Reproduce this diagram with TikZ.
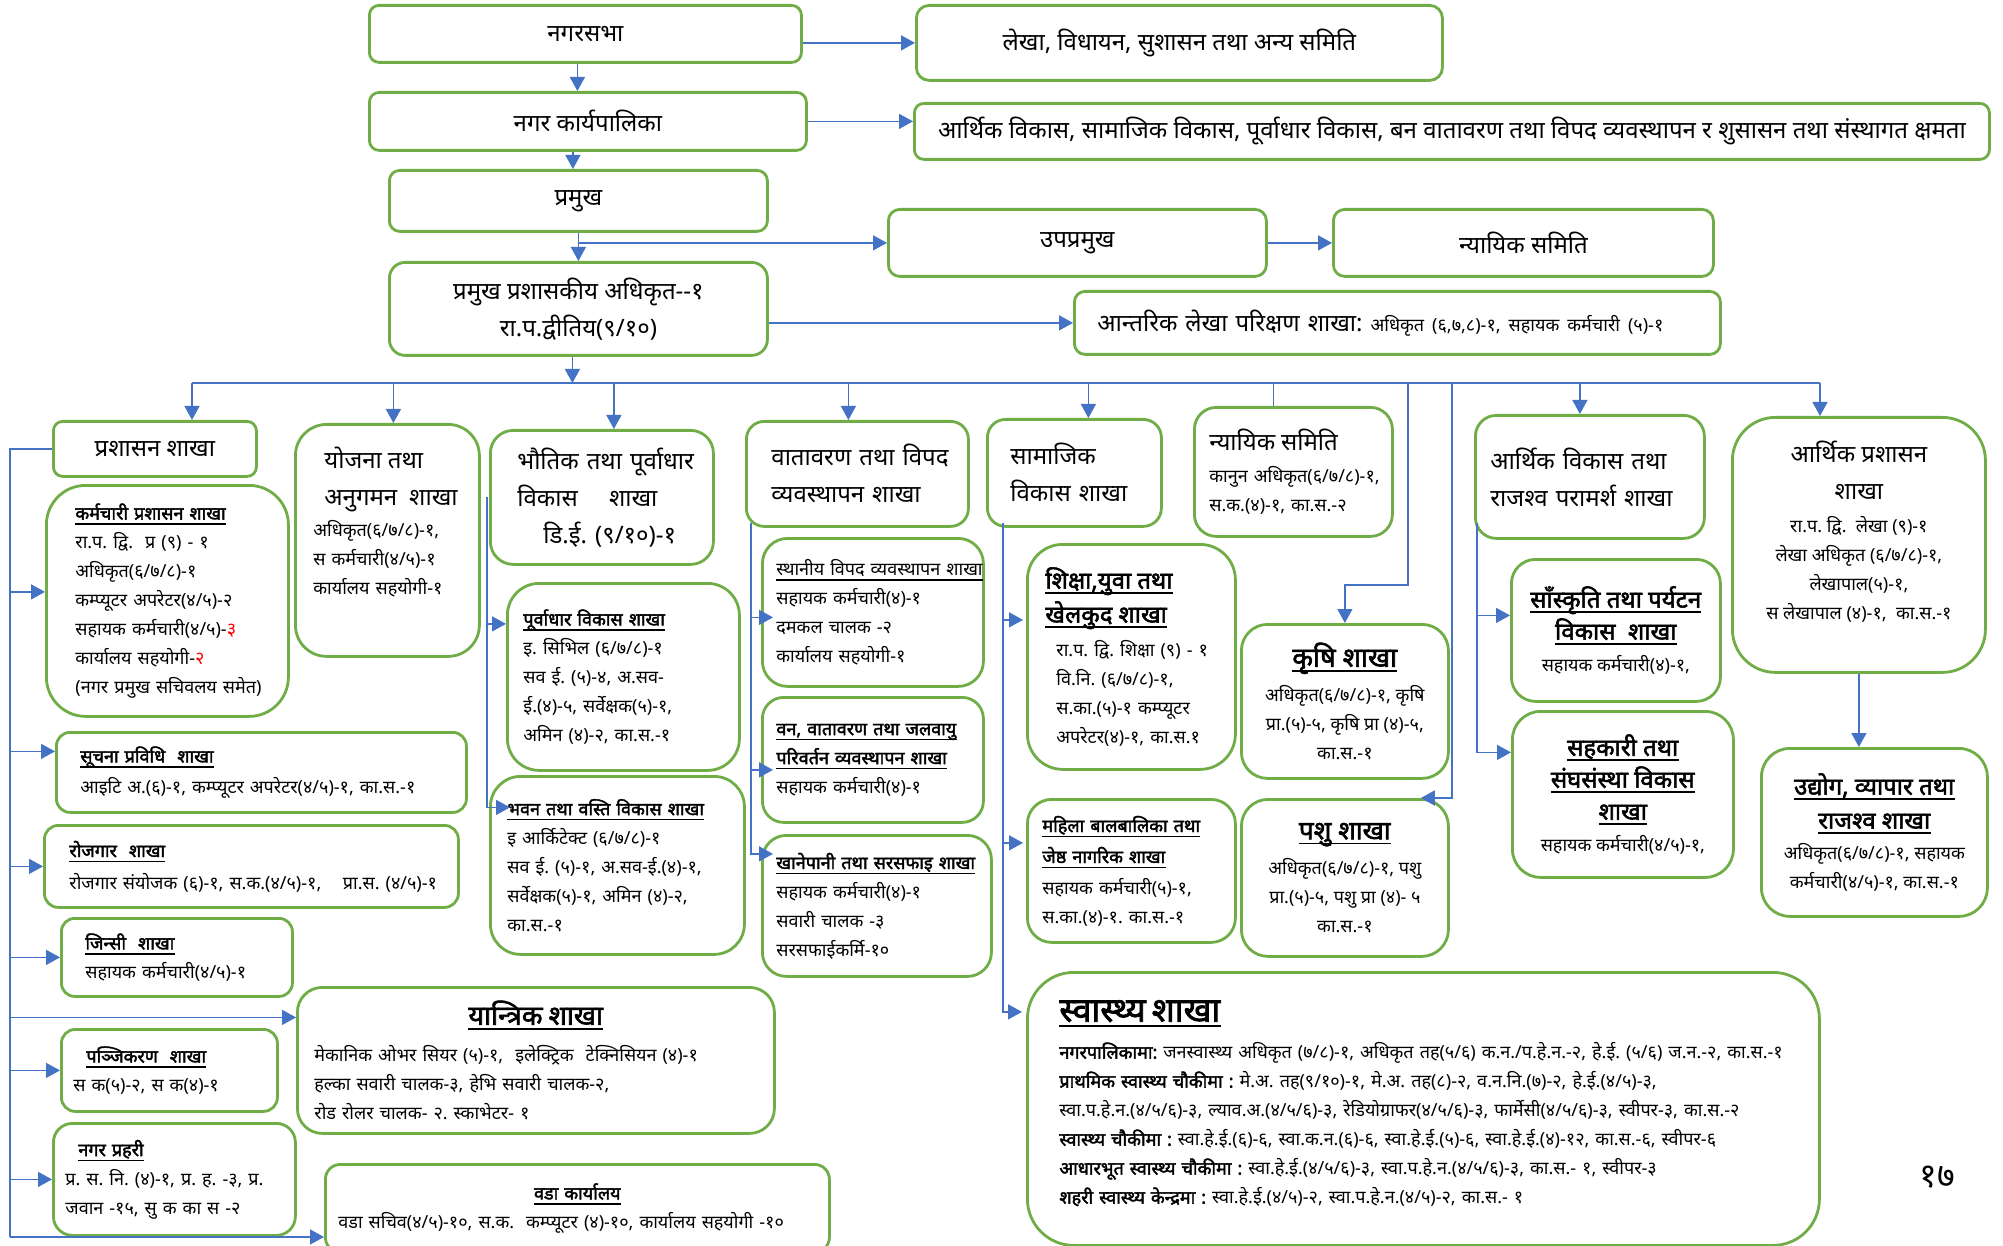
\documentclass[tikz,border=0pt]{standalone}
\usepackage{fontspec}
\setmainfont{Noto Sans}[Script=Devanagari, BoldFont={Noto Sans}, BoldFeatures={FakeBold=2.2}]
\usetikzlibrary{arrows.meta}
\definecolor{leaf}{HTML}{70AD47}
\definecolor{flow}{HTML}{4472C4}
\definecolor{alert}{HTML}{FF0000}
\newcommand{\bigsz}{\fontsize{24}{37}\selectfont}
\newcommand{\largesz}{\fontsize{24}{32}\selectfont}
\newcommand{\smallsz}{\fontsize{18}{29}\selectfont}
\newcommand{\hugesz}{\fontsize{34}{42}\selectfont}
\newcommand{\underhead}[1]{\leavevmode\setbox0\hbox{#1}\rlap{\rule[-5pt]{\wd0}{1.4pt}}\box0}
\newcommand{\unithead}[1]{\underhead{\textbf{#1}}}
\newcommand{\lift}[1]{\rule[-#1]{0pt}{0pt}}
\frenchspacing

\begin{document}
\begin{tikzpicture}[x=1pt, y=-1pt,
  cell/.style 2 args={draw=leaf, line width=2.8pt, fill=white, anchor=north west,
    minimum width=#1, minimum height=#2, rounded corners={0.17*min(#1,#2)},
    inner sep=0pt, font=\bigsz,
    execute at begin node={\rightskip=0pt plus 1fil minus 1000pt}},
  link/.style={draw=flow, line width=1.4pt, -{Triangle[length=14pt, width=15pt]}},
  rail/.style={draw=flow, line width=1.4pt}]
\useasboundingbox[fill=white] (0,0) rectangle (2003,1246);

% council and mayor chain
\node[cell={432}{57}] (sabha) at (368,4) {नगरसभा};
\node[cell={526}{75}] (lekha) at (915,4) {लेखा, विधायन, सुशासन तथा अन्य समिति};
\node[cell={437}{58}] (palika) at (368,91) {नगर कार्यपालिका};
\node[cell={1075}{56}] (agenda) at (913,102) {आर्थिक विकास, सामाजिक विकास, पूर्वाधार विकास, बन वातावरण तथा विपद व्यवस्थापन र शुसासन तथा संस्थागत क्षमता};
\node[cell={378}{61}] (pramukh) at (388,169) {प्रमुख};
\node[cell={378}{67}] (upa) at (887,208) {उपप्रमुख};
\node[cell={380}{67}] (nyaya) at (1332,208) {न्यायिक समिति};
\node[cell={378}{93}, align=center] (cao) at (388,261) {प्रमुख प्रशासकीय अधिकृत-{}-१\\रा.प.द्वीतिय(९/१०)};
\node[cell={646}{63}, text width=600, align=left] (audit) at (1073,290)
  {आन्तरिक लेखा परिक्षण शाखा: {\smallsz अधिकृत (६,७,८)-१, सहायक कर्मचारी (५)-१}};

% administration column
\node[cell={203}{55}] (prashasan) at (52,420) {प्रशासन शाखा};
\node[cell={242}{231}, text width=184, align=left, font=\smallsz] (karmachari) at (45,484)
  {\unithead{कर्मचारी प्रशासन शाखा}\\ रा.प. द्वि.\ \ प्र (९) - १\\ अधिकृत(६/७/८)-१\\
   कम्प्यूटर अपरेटर(४/५)-२\\ सहायक कर्मचारी(४/५)-\textcolor{alert}{३}\\
   कार्यालय सहयोगी-\textcolor{alert}{२}\\ (नगर प्रमुख सचिवलय समेत)};
\node[cell={410}{80}, text width=362, align=left, font=\smallsz] (suchana) at (55,731)
  {\unithead{सूचना प्रविधि\ \ शाखा}\\[2pt] आइटि अ.(६)-१, कम्प्यूटर अपरेटर(४/५)-१, का.स.-१};
\node[cell={414}{82}, text width=364, align=left, font=\smallsz] (rojgar) at (43,824)
  {\unithead{रोजगार\ \ शाखा}\\[3pt] रोजगार संयोजक (६)-१, स.क.(४/५)-१,\hspace{1.2em}प्रा.स. (४/५)-१};
\node[cell={231}{78}, text width=183, align=left, font=\smallsz] (jinsi) at (60,917)
  {\unithead{जिन्सी\ \ शाखा}\\ सहायक कर्मचारी(४/५)-१};
\node[cell={216}{82}, text width=192, align=left, font=\smallsz] (panjikaran) at (60,1028)
  {\hspace*{13pt}\unithead{पञ्जिकरण\ \ शाखा}\\ स क(५)-२, स क(४)-१};
\node[cell={242}{112}, text width=218, align=left, font=\smallsz] (prahari) at (52,1122)
  {\hspace*{13pt}\unithead{नगर प्रहरी}\\ प्र. स. नि. (४)-१, प्र. ह. -३, प्र.\\ जवान -१५, सु क का स -२};
\node[cell={477}{146}, text width=443, align=left, font=\smallsz] (yantrik) at (296,986)
  {\makebox[443pt]{\fontsize{27}{37}\selectfont\unithead{यान्त्रिक शाखा}}\\[8pt]
   मेकानिक ओभर सियर (५)-१,\ \ इलेक्ट्रिक\ \ टेक्निसियन (४)-१\\
   हल्का सवारी चालक-३, हेभि सवारी चालक-२,\\ रोड रोलर चालक- २. स्काभेटर- १};
\node[cell={504}{88}, text width=478, align=left, font=\smallsz] (wada) at (324,1163)
  {\makebox[478pt]{\unithead{वडा कार्यालय}}\\ वडा सचिव(४/५)-१०, स.क.\ \ कम्प्यूटर (४)-१०, कार्यालय सहयोगी -१०};

% planning and infrastructure
\node[cell={184}{232}, text width=148, align=left, font=\smallsz] (yojana) at (294,423)
  {\hspace*{11pt}{\bigsz योजना तथा}\\[8pt] \hspace*{11pt}{\bigsz अनुगमन\ \ शाखा}\\[2pt]
   अधिकृत(६/७/८)-१,\\ स कर्मचारी(४/५)-१\\ कार्यालय सहयोगी-१\lift{40pt}};
\node[cell={223}{134}, text width=169, align=left] (bhautik) at (489,429)
  {भौतिक तथा पूर्वाधार\\ विकास\hspace{1.3em}शाखा\\ \hspace*{26pt}डि.ई. (९/१०)-१};
\node[cell={232}{187}, text width=200, align=left, font=\smallsz] (purvadhar) at (506,582)
  {\unithead{पूर्वाधार विकास शाखा}\\ इ. सिभिल (६/७/८)-१\\ सव ई. (५)-४, अ.सव-\\
   ई.(४)-५, सर्वेक्षक(५)-१,\\ अमिन (४)-२, का.स.-१};
\node[cell={254}{178}, text width=220, align=left, font=\smallsz] (bhawan) at (489,775)
  {\unithead{भवन तथा वस्ति विकास शाखा}\\ इ आर्किटेक्ट (६/७/८)-१\\ सव ई. (५)-१, अ.सव-ई.(४)-१,\\
   सर्वेक्षक(५)-१, अमिन (४)-२,\\ का.स.-१};

% environment and disaster
\node[cell={222}{105}, text width=172, align=left] (vatavaran) at (745,420)
  {वातावरण तथा विपद\\ व्यवस्थापन शाखा};
\node[cell={221}{148}, text width=193, align=left, font=\smallsz] (sthaniya) at (761,537)
  {\underhead{स्थानीय विपद व्यवस्थापन शाखा}\\ सहायक कर्मचारी(४)-१\\ दमकल चालक -२\\ कार्यालय सहयोगी-१};
\node[cell={221}{125}, text width=193, align=left, font=\smallsz] (jalvayu) at (761,696)
  {\unithead{वन, वातावरण तथा जलवायु}\\ \unithead{परिवर्तन व्यवस्थापन शाखा}\\ सहायक कर्मचारी(४)-१};
\node[cell={229}{141}, text width=201, align=left, font=\smallsz] (khanepani) at (761,834)
  {\unithead{खानेपानी तथा सरसफाइ शाखा}\\ सहायक कर्मचारी(४)-१\\ सवारी चालक -३\\ सरसफाईकर्मि-१०};

% social development
\node[cell={174}{107}, text width=128, align=left] (samajik) at (986,418) {सामाजिक\\ विकास शाखा};
\node[cell={208}{225}, text width=172, align=left, font=\smallsz] (shiksha) at (1026,543)
  {{\bigsz\unithead{शिक्षा,युवा तथा}}\\[5pt] {\bigsz\unithead{खेलकुद शाखा}}\\[5pt]
   \hspace*{11pt}रा.प. द्वि. शिक्षा (९) - १\\ \hspace*{11pt}वि.नि. (६/७/८)-१,\\
   \hspace*{11pt}स.का.(५)-१ कम्प्यूटर\\ \hspace*{11pt}अपरेटर(४)-१, का.स.१};
\node[cell={208}{143}, text width=178, align=left, font=\smallsz] (mahila) at (1026,798)
  {\unithead{महिला बालबालिका तथा}\\[2pt] \unithead{जेष्ठ नागरिक शाखा}\\[2pt]
   सहायक कर्मचारी(५)-१,\\ स.का.(४)-१. का.स.-१};
\node[cell={792}{273}, text width=728, align=left, font=\smallsz] (swasthya) at (1026,971)
  {{\hugesz\unithead{स्वास्थ्य शाखा}}\\[8pt]
   \textbf{नगरपालिकामा:} जनस्वास्थ्य अधिकृत (७/८)-१, अधिकृत तह(५/६) क.न./प.हे.न.-२, हे.ई. (५/६) ज.न.-२, का.स.-१\\
   \textbf{प्राथमिक स्वास्थ्य चौकीमा :} मे.अ. तह(९/१०)-१, मे.अ. तह(८)-२, व.न.नि.(७)-२, हे.ई.(४/५)-३,\\
   स्वा.प.हे.न.(४/५/६)-३, ल्याव.अ.(४/५/६)-३, रेडियोग्राफर(४/५/६)-३, फार्मेसी(४/५/६)-३, स्वीपर-३, का.स.-२\\
   \textbf{स्वास्थ्य चौकीमा :} स्वा.हे.ई.(६)-६, स्वा.क.न.(६)-६, स्वा.हे.ई.(५)-६, स्वा.हे.ई.(४)-१२, का.स.-६, स्वीपर-६\\
   \textbf{आधारभूत स्वास्थ्य चौकीमा :} स्वा.हे.ई.(४/५/६)-३, स्वा.प.हे.न.(४/५/६)-३, का.स.- १, स्वीपर-३\\
   \textbf{शहरी स्वास्थ्य केन्द्रमा :} स्वा.हे.ई.(४/५)-२, स्वा.प.हे.न.(४/५)-२, का.स.- १\lift{14pt}};

% judicial, agriculture, livestock
\node[cell={198}{129}, text width=168, align=center, font=\smallsz] (nyayik) at (1193,406)
  {\makebox[168pt][l]{\bigsz न्यायिक समिति}\\[3pt] कानुन अधिकृत(६/७/८)-१,\\ स.क.(४)-१, का.स.-२};
\node[cell={207}{154}, align=center, font=\smallsz] (krishi) at (1240,623)
  {{\fontsize{27}{37}\selectfont\unithead{कृषि शाखा}}\\[6pt] अधिकृत(६/७/८)-१, कृषि\\ प्रा.(५)-५, कृषि प्रा (४)-५,\\ का.स.-१};
\node[cell={207}{157}, align=center, font=\smallsz] (pashu) at (1240,798)
  {{\fontsize{26}{37}\selectfont\unithead{पशु शाखा}}\\[6pt] अधिकृत(६/७/८)-१, पशु\\ प्रा.(५)-५, पशु प्रा (४)- ५\\ का.स.-१};

% economic development
\node[cell={229}{123}, text width=199, align=left] (arthik) at (1474,414) {आर्थिक विकास तथा\\ राजश्व परामर्श शाखा};
\node[cell={209}{142}, align=center, font=\smallsz] (sanskriti) at (1510,558)
  {{\largesz\unithead{साँस्कृति तथा पर्यटन}}\\[3pt] {\largesz\unithead{विकास\ \ शाखा}}\\[3pt] सहायक कर्मचारी(४)-१,};
\node[cell={221}{166}, align=center, font=\smallsz] (sahakari) at (1511,710)
  {{\largesz\unithead{सहकारी तथा}}\\[3pt] {\largesz\unithead{संघसंस्था विकास}}\\[3pt]
   {\largesz\unithead{शाखा}}\\[3pt] सहायक कर्मचारी(४/५)-१,};

% financial administration
\node[cell={253}{255}, align=center, font=\smallsz] (arthikpra) at (1731,416)
  {{\bigsz आर्थिक प्रशासन}\\[8pt] {\bigsz शाखा}\\[4pt] रा.प. द्वि.\ \ लेखा (९)-१\\
   लेखा अधिकृत (६/७/८)-१,\\ लेखापाल(५)-१,\\ स लेखापाल (४)-१,\ \ का.स.-१\lift{30pt}};
\node[cell={226}{168}, align=center, font=\smallsz] (udyog) at (1760,747)
  {{\largesz\unithead{उद्योग, व्यापार तथा}}\\[5pt] {\largesz\unithead{राजश्व शाखा}}\\[2pt]
   अधिकृत(६/७/८)-१, सहायक\\ कर्मचारी(४/५)-१, का.स.-१};

\node[font=\fontsize{34}{40}\selectfont] (folio) at (1937,1177) {१७};

% connectors, top part
\coordinate (stem1) at ([xshift=-8pt]sabha.south);
\coordinate (stem2) at ([xshift=-15pt]palika.south);
\coordinate (stem4) at ([xshift=-6pt]cao.south);
\draw[link] (sabha.east |- lekha.west) -- (lekha.west);
\draw[link] (palika.east) -- (palika.east -| agenda.west);
\draw[link] (stem1) -- (stem1 |- palika.north);
\draw[link] (stem2) -- (stem2 |- pramukh.north);
\draw[link] (pramukh.south) -- (cao.north);
\draw[link] (pramukh.south |- upa.west) -- (upa.west);
\draw[link] (upa) -- (nyaya);
\draw[link] (cao.east |- audit.west) -- (audit.west);

% branch bus
\coordinate (busW) at (192,383);
\coordinate (busE) at (1820,383);
\draw[link] (stem4) -- (stem4 |- busW);
\draw[rail] (busW) -- (busE);
\draw[link] (busW) -- (busW |- prashasan.north);
\draw[link] (busE) -- (busE |- arthikpra.north);
\foreach \n/\dx in {yojana/6, bhautik/12, vatavaran/-9, samajik/14, arthik/-10}{
  \coordinate (drop) at ([xshift=\dx pt]\n.north);
  \draw[link] (drop |- busW) -- (drop);
}
\coordinate (tapN) at ([xshift=-20pt]nyayik.north);
\draw[rail] (tapN |- busW) -- (tapN);
\coordinate (tapK) at (1408,383);
\draw[link] (tapK) -- ++(0,202) -| (krishi.north);
\coordinate (tapP) at (1452,383);
\coordinate (pashuIn) at ([xshift=-29pt]pashu.north east);
\draw[link] (tapP) |- (pashuIn);

% left rail
\coordinate (railS) at (10,1237);
\draw[rail] (prashasan.west) -| (railS);
\coordinate (karmachariIn) at ([yshift=9pt]karmachari.west);
\coordinate (suchanaIn) at ([yshift=21pt]suchana.west);
\coordinate (yantrikIn) at ([yshift=43pt]yantrik.west);
\draw[link] (railS |- karmachariIn) -- (karmachariIn);
\draw[link] (railS |- suchanaIn) -- (suchanaIn);
\draw[link] (railS |- rojgar.west) -- (rojgar.west);
\draw[link] (railS |- jinsi.west) -- (jinsi.west);
\draw[link] (railS |- yantrikIn) -- (yantrikIn);
\draw[link] (railS |- panjikaran.west) -- (panjikaran.west);
\draw[link] (railS |- prahari.west) -- (prahari.west);
\draw[link] (railS) -- (railS -| wada.west);

% infrastructure rail
\coordinate (rail2) at ([xshift=-2pt]bhautik.west);
\coordinate (purvaIn) at ([yshift=53pt]purvadhar.west);
\coordinate (bhawanIn) at ([xshift=21pt, yshift=58pt]bhawan.west);
\draw[link] (rail2) |- (bhawanIn);
\draw[link] (rail2 |- purvaIn) -- (purvaIn);

% environment rail
\coordinate (rail3) at ([xshift=6pt, yshift=5pt]vatavaran.south west);
\coordinate (sthaniyaIn) at ([xshift=12pt, yshift=-5pt]sthaniya.west);
\coordinate (jalvayuIn) at ([xshift=12pt, yshift=-10pt]jalvayu.west);
\coordinate (khanepaniIn) at ([xshift=12pt, yshift=52pt]khanepani.west);
\draw[link] (rail3) |- (khanepaniIn);
\draw[link] (rail3 |- sthaniyaIn) -- (sthaniyaIn);
\draw[link] (rail3 |- jalvayuIn) -- (jalvayuIn);

% social rail
\coordinate (rail4) at ([xshift=17pt, yshift=5pt]samajik.south west);
\coordinate (shikshaIn) at ([xshift=-3pt, yshift=37pt]shiksha.west);
\coordinate (mahilaIn) at ([xshift=-3pt, yshift=28pt]mahila.west);
\coordinate (swasthyaIn) at ([xshift=-4pt, yshift=97pt]swasthya.west);
\draw[link] (rail4) |- (swasthyaIn);
\draw[link] (rail4 |- shikshaIn) -- (shikshaIn);
\draw[link] (rail4 |- mahilaIn) -- (mahilaIn);

% economic rail
\coordinate (rail6) at ([xshift=3pt, yshift=17pt]arthik.south west);
\coordinate (sanskritiIn) at ([yshift=15pt]sanskriti.west);
\coordinate (sahakariIn) at ([yshift=42pt]sahakari.west);
\draw[link] (rail6) |- (sahakariIn);
\draw[link] (rail6 |- sanskritiIn) -- (sanskritiIn);

\draw[link] (arthikpra.south) -- (arthikpra.south |- udyog.north);
\end{tikzpicture}
\end{document}
